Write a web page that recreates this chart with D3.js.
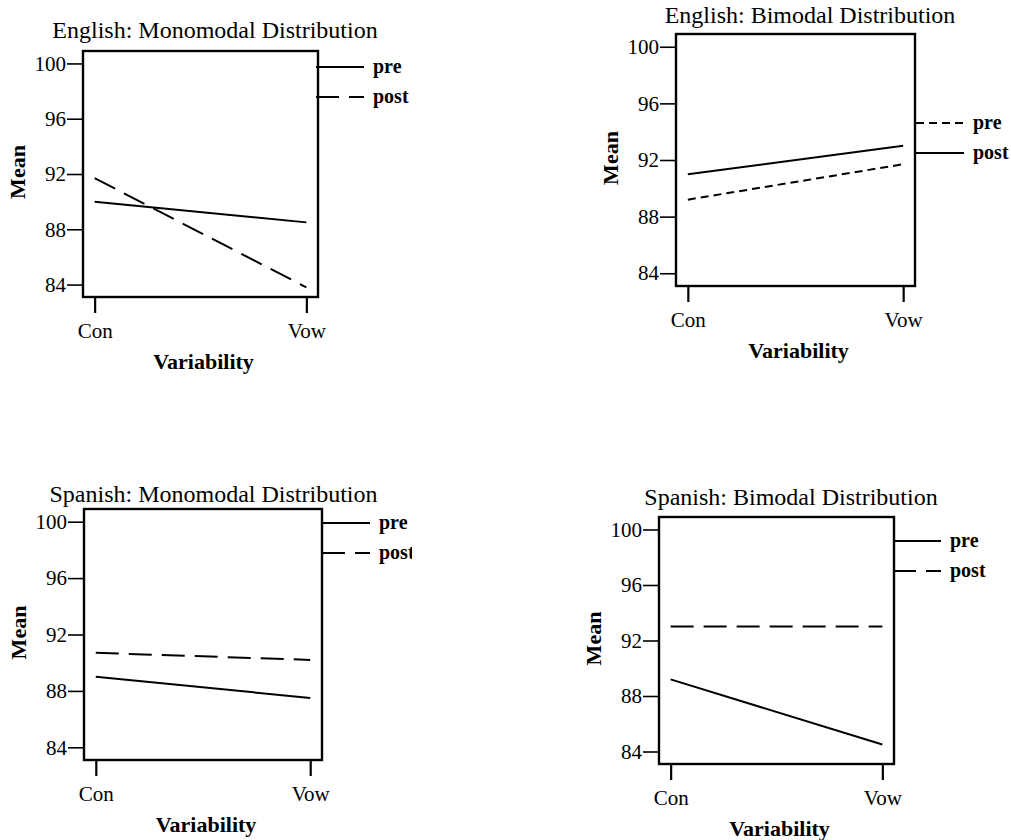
<!DOCTYPE html>
<html>
<head>
<meta charset="utf-8">
<script src="https://cdn.jsdelivr.net/npm/d3@7"></script>
<style>
  body { margin: 0; background: #fff; }
  text { font-family: "Liberation Serif", "Times New Roman", serif; fill: #000; }
</style>
</head>
<body>
<svg width="1011" height="840"></svg>
<script>
// Data
let categories = ["Con", "Vow"];
let yTicks = [84, 88, 92, 96, 100];
let yDomain = [83.1, 100.9];
let seriesNames = ["pre", "post"];
let titles = [
  "English: Monomodal Distribution",
  "English: Bimodal Distribution",
  "Spanish: Monomodal Distribution",
  "Spanish: Bimodal Distribution"
];
let engMonoPre = [90.0, 88.5];
let engMonoPost = [91.7, 83.8];
let engBiPre = [89.2, 91.7];
let engBiPost = [91.0, 93.0];
let spaMonoPre = [89.0, 87.5];
let spaMonoPost = [90.7, 90.2];
let spaBiPre = [89.2, 84.5];
let spaBiPost = [93.0, 93.0];

let panelData = [
  [engMonoPre, engMonoPost],
  [engBiPre, engBiPost],
  [spaMonoPre, spaMonoPost],
  [spaBiPre, spaBiPost]
];

// Layout and styles for each panel
let serif = "'Liberation Serif', 'Times New Roman', serif";
let longDash = "23,10", shortDash = "8,5";
let panels = [
  { left: 83, right: 318, top: 51, bottom: 297, titleX: 215, titleY: 38, legX: 316, legY: 67, dash: [null, longDash] },
  { left: 676, right: 915, top: 34, bottom: 286, titleX: 810, titleY: 23, legX: 916, legY: 123, dash: [shortDash, null] },
  { left: 84, right: 322, top: 509, bottom: 760, titleX: 213.5, titleY: 502, legX: 322, legY: 523, dash: [null, longDash], clipRight: 412 },
  { left: 659, right: 894, top: 517, bottom: 764, titleX: 791, titleY: 505, legX: 893, legY: 541, dash: [null, longDash] }
];

let svg = d3.select("svg");
svg.append("rect").attr("width", 1011).attr("height", 840).attr("fill", "#fff");

panels.forEach(function(p, i) {
  let g = svg.append("g");

  // the third panel's legend is cut off on the right
  if (p.clipRight) {
    svg.append("clipPath").attr("id", "clip" + i)
      .append("rect").attr("x", 0).attr("y", p.top - 60)
      .attr("width", p.clipRight).attr("height", 400);
    g.attr("clip-path", "url(#clip" + i + ")");
  }

  let x = d3.scalePoint().domain(categories).range([p.left, p.right]).padding(0.055);
  let y = d3.scaleLinear().domain(yDomain).range([p.bottom, p.top]);

  // title
  g.append("text")
    .attr("x", p.titleX).attr("y", p.titleY)
    .attr("text-anchor", "middle")
    .style("font-size", "24px")
    .text(titles[i]);

  // y axis
  let yAxis = g.append("g")
    .attr("transform", "translate(" + p.left + ",0)")
    .call(d3.axisLeft(y).tickValues(yTicks).tickSize(16).tickPadding(1).tickFormat(d3.format("d")))
    .attr("font-family", serif).attr("font-size", 21);
  yAxis.select(".domain").remove();
  yAxis.selectAll("line").attr("stroke-width", 1.6);

  // x axis
  let xAxis = g.append("g")
    .attr("transform", "translate(0," + p.bottom + ")")
    .call(d3.axisBottom(x).tickSize(16).tickPadding(10))
    .attr("font-family", serif).attr("font-size", 21);
  xAxis.select(".domain").remove();
  xAxis.selectAll("line").attr("stroke-width", 2.2);

  // lines
  let line = d3.line().x((d, j) => x(categories[j])).y(d => y(d));
  panelData[i].forEach(function(vals, s) {
    g.append("path")
      .datum(vals)
      .attr("d", line)
      .attr("fill", "none")
      .attr("stroke", "#000")
      .attr("stroke-width", 2)
      .attr("stroke-dasharray", p.dash[s]);
  });

  // box
  g.append("rect")
    .attr("x", p.left).attr("y", p.top)
    .attr("width", p.right - p.left).attr("height", p.bottom - p.top)
    .attr("fill", "none").attr("stroke", "#000").attr("stroke-width", 2.4);

  // axis titles
  g.append("text")
    .attr("transform", "translate(" + (p.left - 66) + "," + ((p.top + p.bottom) / 2 - 2) + ") rotate(-90)")
    .attr("text-anchor", "middle").attr("dy", "0.35em")
    .style("font-size", "22px").style("font-weight", "bold")
    .text("Mean");

  g.append("text")
    .attr("x", (p.left + p.right) / 2 + 3).attr("y", p.bottom + 64)
    .attr("text-anchor", "middle").attr("dy", "0.35em")
    .style("font-size", "22px").style("font-weight", "bold")
    .text("Variability");

  // legend
  let leg = g.append("g").selectAll("g")
    .data(seriesNames).enter().append("g")
    .attr("transform", (d, s) => "translate(" + p.legX + "," + (p.legY + s * 30) + ")");
  leg.append("line")
    .attr("x1", 0).attr("x2", 48)
    .attr("stroke", "#000").attr("stroke-width", 2)
    .attr("stroke-dasharray", (d, s) => p.dash[s]);
  leg.append("text")
    .attr("x", 57).attr("dy", "0.3em")
    .style("font-size", "20px").style("font-weight", "bold")
    .text(d => d);
});
</script>
</body>
</html>
